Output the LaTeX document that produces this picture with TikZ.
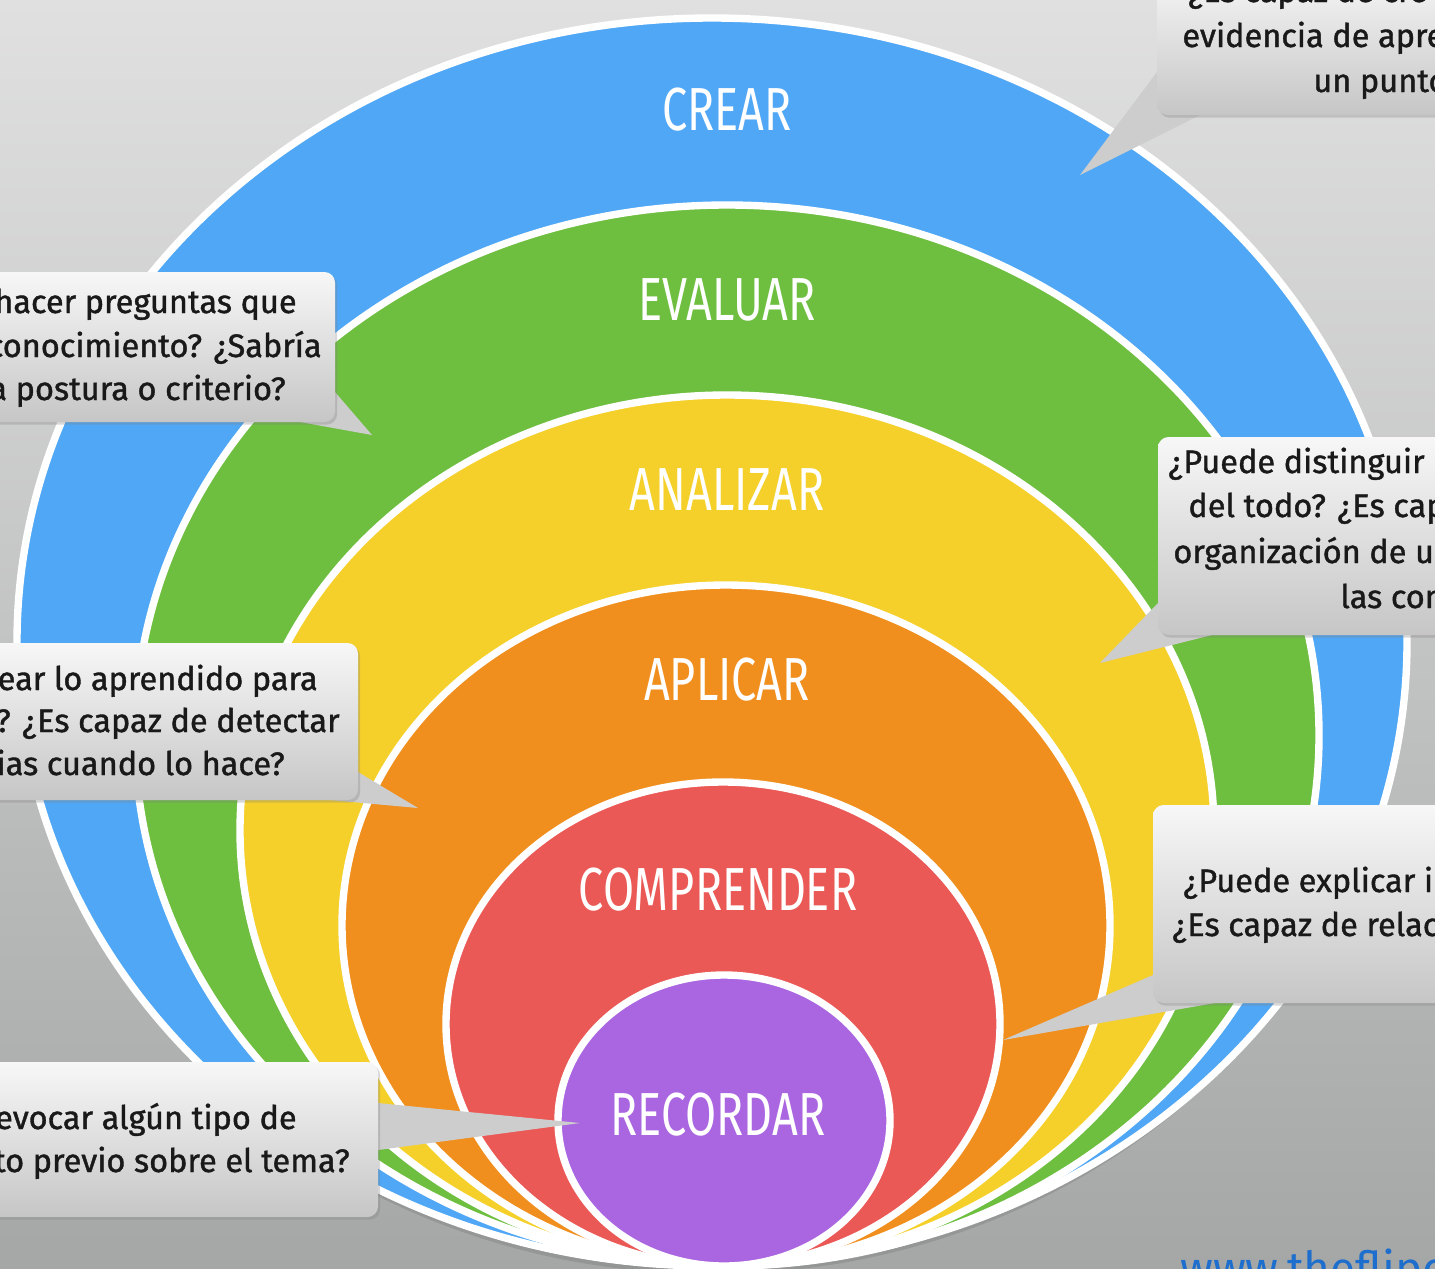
\documentclass[tikz,border=0pt]{standalone}
\usepackage{fontspec}
\setmainfont{Fira Sans}
\newfontfamily\headfont[FakeStretch=0.74]{Fira Sans}
\newfontfamily\qfont[FakeBold=1.2]{Fira Sans}
\usepackage{tikz}
\usetikzlibrary{shadows}

\definecolor{bgtop}{RGB}{224,224,224}
\definecolor{bgbot}{RGB}{165,167,167}
\definecolor{crearcol}{RGB}{80,167,245}
\definecolor{evaluarcol}{RGB}{110,190,64}
\definecolor{analizarcol}{RGB}{245,208,42}
\definecolor{aplicarcol}{RGB}{240,143,30}
\definecolor{comprendercol}{RGB}{234,89,85}
\definecolor{recordarcol}{RGB}{170,102,225}
\definecolor{bubtop}{RGB}{247,247,247}
\definecolor{bubbot}{RGB}{198,198,198}
\definecolor{tailcol}{RGB}{205,205,205}
\definecolor{urlblue}{RGB}{30,110,205}

\tikzset{
  ring/.style={fill=#1, draw=white, line width=4.2pt},
  ringlabel/.style={text=white, inner sep=0pt, font=\headfont\fontsize{34.6}{40}\selectfont},
  bubble/.style={top color=bubtop, bottom color=bubbot, rounded corners=6pt,
    drop shadow={opacity=0.3, shadow xshift=1.2pt, shadow yshift=-1.5pt}},
  bubtail/.style={fill=tailcol},
  qline/.style={inner sep=0pt, text=black!90, font=\qfont\fontsize{18.5}{22}\selectfont},
}

\begin{document}
\begin{tikzpicture}[x=0.02cm, y=-0.02cm]
  \useasboundingbox (0,0) rectangle (1435,1268);
  \clip (0,0) rectangle (1435,1268);
  \shade[top color=bgtop, bottom color=bgbot] (0,0) rectangle (1435,1268);

  % shadow under the rings
  \fill[black, opacity=0.10] (712,650) ellipse [x radius=690, y radius=624];
  \fill[black, opacity=0.10] (712,646) ellipse [x radius=693, y radius=624];

  % the six levels, outer to inner
  \draw[ring=crearcol] (712,642) ellipse [x radius=695, y radius=624];
  \node[ringlabel] (crear) at (727,110) {CREAR};
  \draw[ring=evaluarcol] (727,735.5) ellipse [x radius=592, y radius=530.5];
  \node[ringlabel] (evaluar) at (727,300) {EVALUAR};
  \draw[ring=analizarcol] (727,830.5) ellipse [x radius=487, y radius=435.5];
  \node[ringlabel] (analizar) at (727,490) {ANALIZAR};
  \draw[ring=aplicarcol] (726,925.5) ellipse [x radius=384, y radius=340.5];
  \node[ringlabel] (aplicar) at (727,680) {APLICAR};
  \draw[ring=comprendercol] (723,1024) ellipse [x radius=277, y radius=242];
  \node[ringlabel] (comprender) at (718,890) {COMPRENDER};
  \draw[ring=recordarcol] (724,1120.5) ellipse [x radius=166, y radius=145.5];
  \node[ringlabel] (recordar) at (718,1115) {RECORDAR};

  % callout tips
  \coordinate (tcrear) at (1080,175);
  \coordinate (tevaluar) at (372,435);
  \coordinate (tanalizar) at (1100,663);
  \coordinate (taplicar) at (418,808);
  \coordinate (tcomprender) at (1003,1040);
  \coordinate (trecordar) at (580,1123);

  % callouts: tail first, then the box
  \fill[bubtail] (1157,72) -- (tcrear) -- (1200,115) -- cycle;
  \shade[bubble] (1157,-30) rectangle (1470,115);
  \fill[bubtail] (335,392) -- (tevaluar) -- (300,422) -- cycle;
  \shade[bubble] (-30,272) rectangle (335,422);
  \fill[bubtail] (1158,603) -- (tanalizar) -- (1212,635) -- cycle;
  \shade[bubble] (1158,437) rectangle (1470,635);
  \fill[bubtail] (358,772) -- (taplicar) -- (330,800) -- cycle;
  \shade[bubble] (-30,643) rectangle (358,800);
  \fill[bubtail] (1153,975) -- (tcomprender) -- (1215,1003) -- cycle;
  \shade[bubble] (1153,805) rectangle (1470,1003);
  \fill[bubtail] (378,1103) -- (trecordar) -- (378,1150) -- cycle;
  \shade[bubble] (-30,1062) rectangle (378,1217);

  % questions
  \node[qline, anchor=base west] (qc1) at (1188,2) {¿Es capaz de cre};
  \node[qline, anchor=base west] (qc2) at (1182,47) {evidencia de apre};
  \node[qline, anchor=base west] (qc3) at (1313,92) {un punto};

  \node[qline, anchor=base east] (qe1) at (297,313) {hacer preguntas que};
  \node[qline, anchor=base east] (qe2) at (322,357) {conocimiento? ¿Sabría};
  \node[qline, anchor=base east] (qe3) at (286,400) {a postura o criterio?};

  \node[qline, anchor=base west] (qn1) at (1168,473) {¿Puede distinguir};
  \node[qline, anchor=base west] (qn2) at (1188,517) {del todo? ¿Es cap};
  \node[qline, anchor=base west] (qn3) at (1173,563) {organización de u};
  \node[qline, anchor=base west] (qn4) at (1340,608) {las con};

  \node[qline, anchor=base east] (qa1) at (318,690) {ear lo aprendido para};
  \node[qline, anchor=base east] (qa2) at (340,732) {? ¿Es capaz de detectar};
  \node[qline, anchor=base east] (qa3) at (285,775) {ias cuando lo hace?};

  \node[qline, anchor=base west] (qp1) at (1183,892) {¿Puede explicar i};
  \node[qline, anchor=base west] (qp2) at (1172,936) {¿Es capaz de relac};

  \node[qline, anchor=base east] (qr1) at (297,1129) {evocar algún tipo de};
  \node[qline, anchor=base east] (qr2) at (350,1172) {to previo sobre el tema?};

  \node[inner sep=0pt, anchor=base west, text=urlblue, font=\fontsize{26}{30}\selectfont] (url) at (1180,1284) {www.theflipc};
\end{tikzpicture}
\end{document}
